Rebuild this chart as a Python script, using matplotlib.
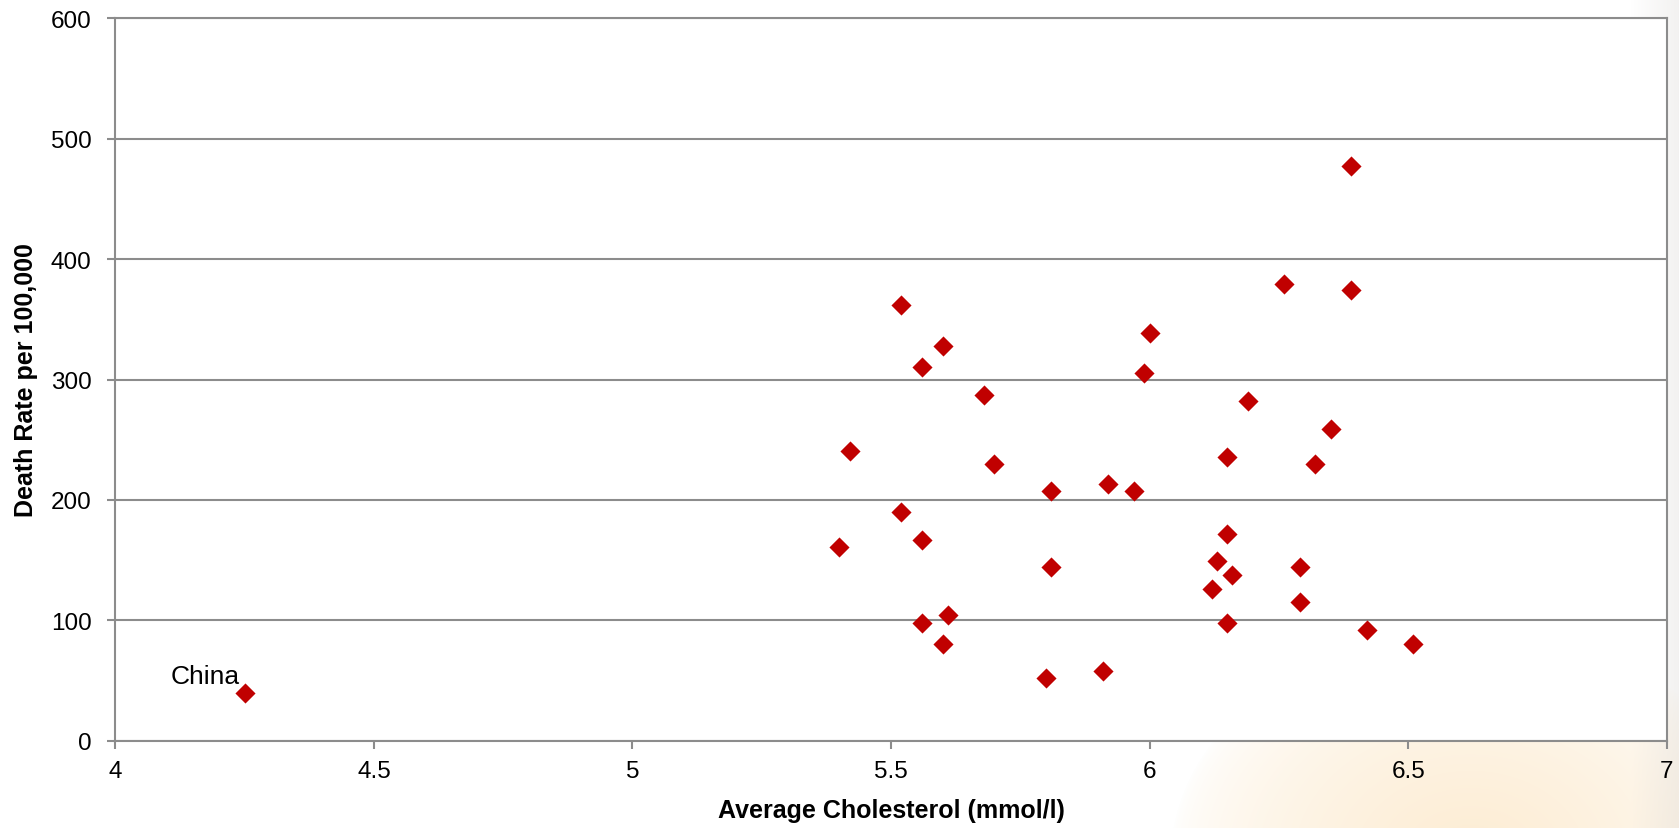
import numpy as np
import matplotlib.pyplot as plt

plt.rcParams['font.family'] = ['Liberation Sans', 'DejaVu Sans']

# average cholesterol (mmol/l) vs death rate per 100,000
cholesterol = [4.25, 5.40, 5.42, 5.52, 5.52, 5.56, 5.56, 5.56, 5.60, 5.60,
               5.61, 5.68, 5.70, 5.80, 5.81, 5.81, 5.91, 5.92, 5.97, 5.99,
               6.00, 6.12, 6.13, 6.15, 6.15, 6.15, 6.16, 6.19, 6.26, 6.29,
               6.29, 6.32, 6.35, 6.39, 6.39, 6.42, 6.51]
death_rate = [40, 161, 241, 362, 190, 310, 167, 98, 328, 80,
              104, 287, 230, 52, 207, 144, 58, 213, 207, 305,
              339, 126, 149, 236, 98, 172, 138, 282, 379, 144,
              115, 230, 259, 477, 374, 92, 80]
label_text = 'China'
label_idx = 0

x_ticks = [4, 4.5, 5, 5.5, 6, 6.5, 7]
y_ticks = [0, 100, 200, 300, 400, 500, 600]

grid_c = '#8c8c8c'
marker_c = '#c00000'

fig = plt.figure(figsize=(16.79, 8.29), dpi=100)

# faint slide background (peach glow bottom right, greyish right edge)
bg = fig.add_axes([0, 0, 1, 1], zorder=0)
H, W = 829, 1679
yy, xx = np.mgrid[0:H, 0:W]
glow = np.clip(1 - np.hypot((xx - 1470) / 300., (yy - 860) / 230.), 0, 1) ** 0.6
img = np.ones((H, W, 3))
peach = np.array([252, 230, 196]) / 255.
img = img * (1 - 0.75 * glow[..., None]) + peach * 0.75 * glow[..., None]
edge = np.clip((xx - 1630) / 49., 0, 1) * 0.22
img = img * (1 - edge[..., None]) + np.array([0.78, 0.76, 0.74]) * edge[..., None]
bg.imshow(img, aspect='auto', extent=[0, 1, 0, 1])
bg.set_axis_off()

ax = fig.add_axes([0.0687, 0.1053, 0.9240, 0.8714], zorder=1)
ax.set_facecolor('white')
ax.scatter(cholesterol, death_rate, marker='D', s=105, color=marker_c,
           linewidths=0, zorder=3)
ax.annotate(label_text, (cholesterol[label_idx], death_rate[label_idx]),
            xytext=(-5, 10), textcoords='offset pixels',
            ha='right', va='baseline', fontsize=19)

ax.set_xlim(4, 7); ax.set_ylim(0, 600)
ax.set_xticks(x_ticks); ax.set_xticklabels(['%g' % v for v in x_ticks])
ax.set_yticks(y_ticks)
ax.yaxis.grid(True, color=grid_c, lw=1.5)
ax.set_axisbelow(True)
for sp in ax.spines.values():
    sp.set_color(grid_c); sp.set_linewidth(1.5)
ax.tick_params(axis='both', colors=grid_c, labelcolor='black', labelsize=17.5,
               length=6, width=1.5)
ax.tick_params(axis='x', pad=8)
ax.tick_params(axis='y', pad=11)

ax.set_xlabel('Average Cholesterol (mmol/l)', fontsize=18, fontweight='bold')
ax.set_ylabel('Death Rate per 100,000', fontsize=18, fontweight='bold')
ax.xaxis.set_label_coords(0.5, -0.08)
ax.yaxis.set_label_coords(-0.05, 0.5)

fig.savefig('out.png', dpi=100)
